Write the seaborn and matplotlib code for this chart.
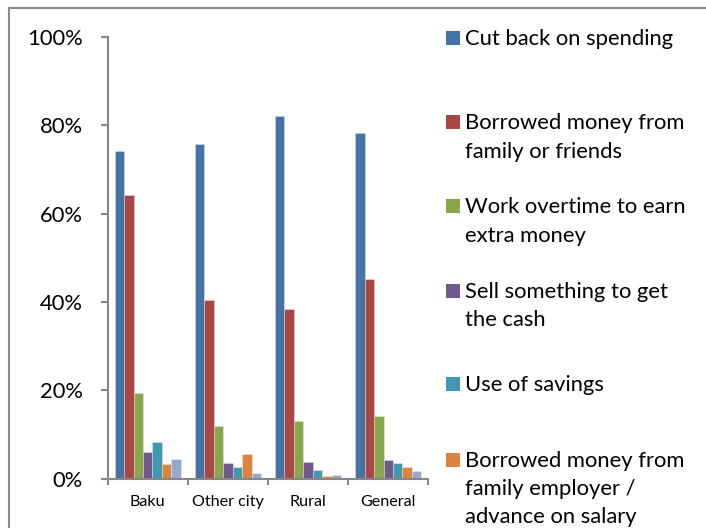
import matplotlib
matplotlib.use("Agg")
import matplotlib.pyplot as plt
from matplotlib.patches import Rectangle
from matplotlib.ticker import FixedLocator, FuncFormatter
import pandas as pd
import seaborn as sns

# Share of households (%) using each coping strategy, by area
areas = ["Baku", "Other city", "Rural", "General"]
strategies = [
    "Cut back on spending",
    "Borrowed money from\nfamily or friends",
    "Work overtime to earn\nextra money",
    "Sell something to get\nthe cash",
    "Use of savings",
    "Borrowed money from\nfamily employer /\nadvance on salary",
    "Other",
]
cut_back = [74.3, 75.8, 82.2, 78.3]
borrowed_family = [64.3, 40.5, 38.4, 45.3]
overtime = [19.3, 12.0, 13.0, 14.2]
sell_something = [6.1, 3.6, 3.8, 4.3]
savings = [8.2, 2.6, 2.0, 3.6]
borrowed_employer = [3.3, 5.5, 0.6, 2.7]
other = [4.5, 1.3, 0.8, 1.8]
y_ticks = [0, 20, 40, 60, 80, 100]

colors = ["#4572A7", "#AA4643", "#89A54E", "#71588F",
          "#4198AF", "#DB843D", "#93A9CF"]

series = [cut_back, borrowed_family, overtime, sell_something,
          savings, borrowed_employer, other]
df = pd.DataFrame(
    [(s, a, v) for s, vals in zip(strategies, series) for a, v in zip(areas, vals)],
    columns=["strategy", "area", "value"],
)

sns.set_theme(style="white")
plt.rcParams["font.family"] = ["Lato", "DejaVu Sans"]

W, H = 706, 528
fig = plt.figure(figsize=(W / 100, H / 100), dpi=100)


def fx(x):
    return x / W


def fy(y):
    return 1 - y / H


ax_left, ax_right, ax_bottom, ax_top = 107.7, 428.3, 478.7, 37.0
ax = fig.add_axes([fx(ax_left), fy(ax_bottom),
                   (ax_right - ax_left) / W, (ax_bottom - ax_top) / H])

sns.barplot(data=df, x="area", y="value", hue="strategy",
            order=areas, hue_order=strategies, palette=colors,
            width=0.825, gap=0, saturation=1,
            edgecolor=(1, 1, 1, 0.35), linewidth=0.6,
            legend=False, ax=ax)

axis_grey = "#868686"
ax.set_xlim(-0.5, len(areas) - 0.5)
ax.set_ylim(0, 100)
ax.set_xlabel("")
ax.set_ylabel("")
ax.yaxis.set_major_locator(FixedLocator(y_ticks))
ax.yaxis.set_major_formatter(FuncFormatter(lambda v, _: f"{v:.0f}%"))
ax.xaxis.set_minor_locator(FixedLocator([i - 0.5 for i in range(len(areas) + 1)]))

for side in ("top", "right"):
    ax.spines[side].set_visible(False)
for side in ("left", "bottom"):
    ax.spines[side].set_color(axis_grey)
    ax.spines[side].set_linewidth(1.5)

ax.tick_params(axis="y", which="major", left=True, length=5, width=1.5,
               color=axis_grey, pad=13, labelsize=15.8, labelcolor="black")
ax.tick_params(axis="x", which="major", bottom=True, length=0, pad=12,
               labelsize=11.6, labelcolor="black")
ax.tick_params(axis="x", which="minor", bottom=True, length=4.5, width=1.5,
               color=axis_grey)

# Legend column on the right, one block per strategy
box_x, text_x, box_size, line_step = 446, 465, 14, 28.2
first_baselines = [44.7, 129.3, 213.3, 298.0, 390.7, 466.7]
for label, color, base in zip(strategies, colors, first_baselines):
    fig.patches.append(Rectangle((fx(box_x), fy(base)), box_size / W, box_size / H,
                                 transform=fig.transFigure, facecolor=color,
                                 edgecolor="none"))
    for k, line in enumerate(label.split("\n")):
        fig.text(fx(text_x), fy(base + k * line_step), line, ha="left",
                 va="baseline", fontsize=15.8, color="black")

# Chart frame
fig.patches.append(Rectangle((fx(9), -0.1), 1.2, fy(8) + 0.1,
                             transform=fig.transFigure, fill=False,
                             edgecolor="#8A8A8A", linewidth=1.5))

fig.savefig("out.png", dpi=100)
